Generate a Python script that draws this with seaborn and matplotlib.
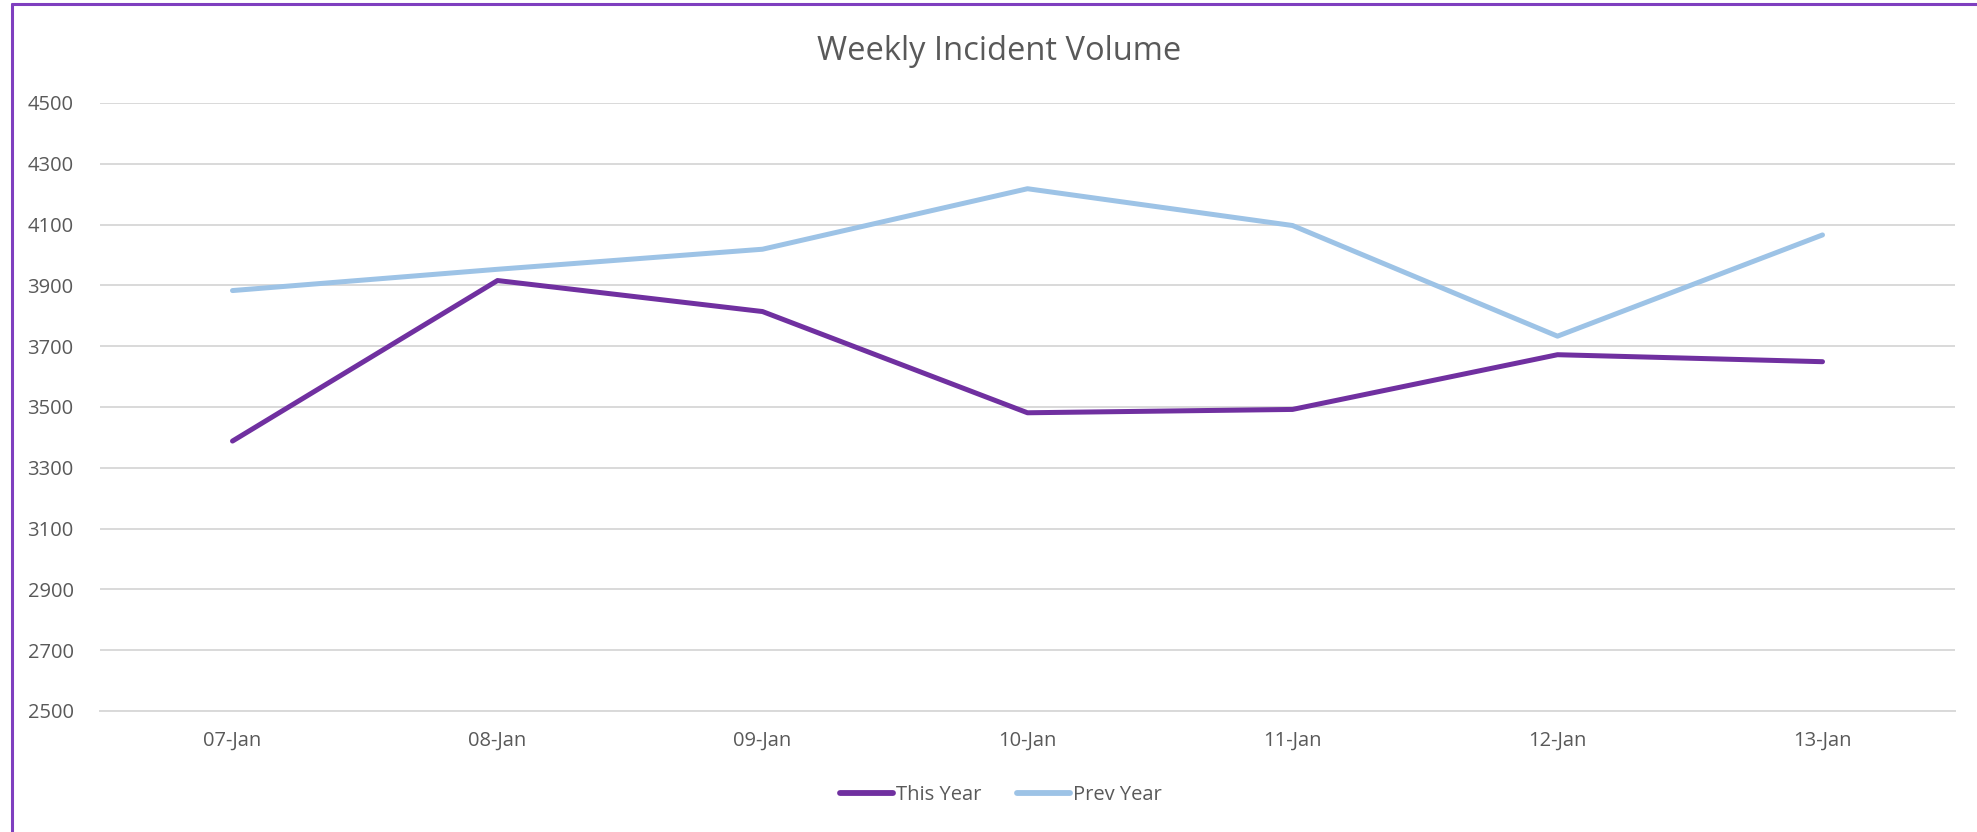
import matplotlib
matplotlib.use("Agg")
import matplotlib.pyplot as plt
import seaborn as sns
import pandas as pd
from matplotlib.lines import Line2D

categories = ["07-Jan", "08-Jan", "09-Jan", "10-Jan", "11-Jan", "12-Jan", "13-Jan"]
this_year = [3388, 3916, 3814, 3481, 3492, 3672, 3649]
prev_year = [3883, 3953, 4019, 4218, 4097, 3733, 4066]
series_names = ["This Year", "Prev Year"]
y_ticks = [2500, 2700, 2900, 3100, 3300, 3500, 3700, 3900, 4100, 4300, 4500]

sns.set_theme(style="white")
plt.rcParams['font.family'] = ['Open Sans', 'DejaVu Sans']

W, H = 1977, 832
fig = plt.figure(figsize=(W / 100, H / 100), dpi=100)
ax = fig.add_axes([100 / W, (H - 711) / H, 1855 / W, (711 - 103) / H])

df = pd.DataFrame({
    "x": list(range(len(categories))) * 2,
    "value": this_year + prev_year,
    "series": [series_names[0]] * len(categories) + [series_names[1]] * len(categories),
})
palette = {"This Year": "#7030A0", "Prev Year": "#9DC3E6"}
sns.lineplot(data=df, x="x", y="value", hue="series", palette=palette, ax=ax,
             linewidth=3.6, legend=False, solid_capstyle="round", solid_joinstyle="round")
for ln in ax.lines:
    ln.set_zorder(3)

ax.set_xlim(-0.5, len(categories) - 0.5)
ax.set_ylim(2500, 4500)
ax.set_yticks(y_ticks)
ax.set_yticklabels([str(t) for t in y_ticks])
ax.set_xticks(range(len(categories)))
ax.set_xticklabels(categories)
ax.set_xticks([i - 0.5 for i in range(len(categories) + 1)], minor=True)
ax.tick_params(axis="x", which="major", length=0, pad=14, labelsize=14.5, labelcolor="#595959")
ax.tick_params(axis="x", which="minor", length=7, width=1.3, color="#D9D9D9", direction="out")
ax.tick_params(axis="y", length=0, pad=19, labelsize=14.5, labelcolor="#595959")
ax.set_xlabel("")
ax.set_ylabel("")
ax.grid(axis="y", color="#D9D9D9", linewidth=1.4)
ax.grid(axis="x", visible=False)
ax.set_axisbelow(True)
for s in ["top", "right", "left"]:
    ax.spines[s].set_visible(False)
ax.spines["bottom"].set_color("#D9D9D9")
ax.spines["bottom"].set_linewidth(1.4)

fig.text(999 / W, 1 - 52 / H, "Weekly Incident Volume", ha="center", va="center",
         fontsize=23.5, color="#595959")

handles = [Line2D([0], [0], color=palette[n], linewidth=4.2, solid_capstyle="round") for n in series_names]
fig.legend(handles, series_names, loc="center", bbox_to_anchor=(1001 / W, 1 - 795 / H),
           ncol=2, frameon=False, fontsize=14.5, labelcolor="#595959",
           handlelength=2.6, handletextpad=0.15, columnspacing=1.8)

# chart-area border (left and top visible)
fig.add_artist(Line2D([12 / W, 12 / W], [0, 1 - 4 / H], color="#7F3FBF", linewidth=2.2))
fig.add_artist(Line2D([12 / W, 1], [1 - 4 / H, 1 - 4 / H], color="#7F3FBF", linewidth=2.2))

fig.savefig("out.png", dpi=100, facecolor="white")
